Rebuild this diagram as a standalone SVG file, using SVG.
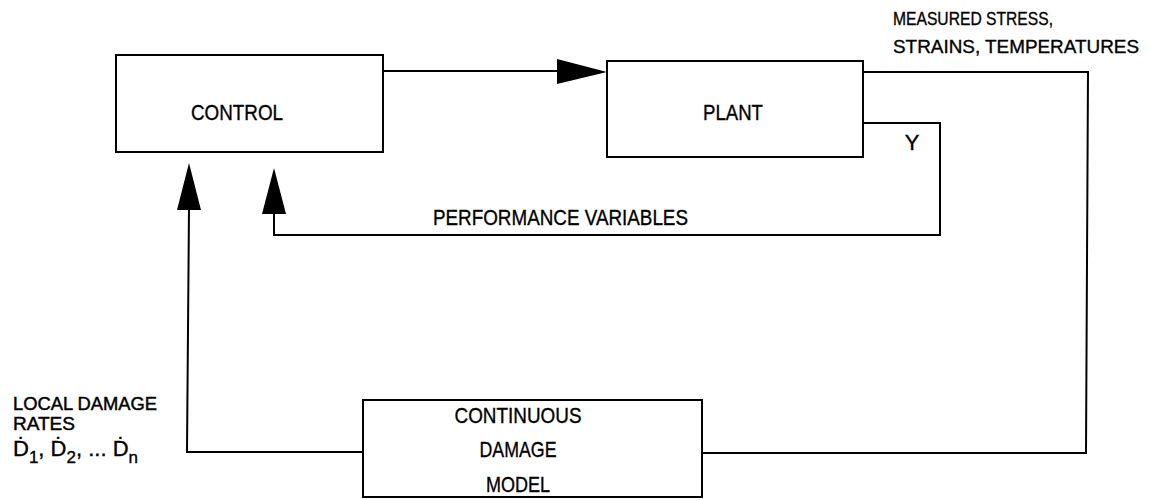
<svg xmlns="http://www.w3.org/2000/svg" width="1149" height="500" viewBox="0 0 1149 500">
<style>
.box{fill:none;stroke:#000;stroke-width:2}
.ln{fill:none;stroke:#000;stroke-width:2}
.hd{fill:#000;stroke:none}
text{font-family:"Liberation Sans",Arial,sans-serif;font-size:22px;fill:#000;stroke:#000;stroke-width:0.35}
.c{text-anchor:middle}
.s{font-size:18px;stroke-width:0.45}
.m{font-size:19px}
</style>
<rect width="1149" height="500" fill="#fff"/>
<g id="control">
<rect class="box" x="116" y="55" width="267" height="97"/>
<text class="c" x="237" y="120" textLength="92" lengthAdjust="spacingAndGlyphs">CONTROL</text>
</g>
<g id="plant">
<rect class="box" x="607" y="61" width="256" height="96"/>
<text class="c" x="733" y="120" textLength="60" lengthAdjust="spacingAndGlyphs">PLANT</text>
</g>
<g id="damage-model">
<rect class="box" x="363" y="400" width="339" height="97"/>
<text class="c" x="518" y="423" textLength="127" lengthAdjust="spacingAndGlyphs">CONTINUOUS</text>
<text class="c" x="518" y="457" textLength="77" lengthAdjust="spacingAndGlyphs">DAMAGE</text>
<text class="c" x="518" y="492" textLength="64" lengthAdjust="spacingAndGlyphs">MODEL</text>
</g>
<g id="connectors">
<polyline class="ln" points="383,71 560,71"/>
<polygon class="hd" points="557,59 607,72 557,84"/>
<polyline class="ln" points="863,72 1088,72 1086,453 702,453"/>
<polyline class="ln" points="863,123 940,123 940,235 274,235 274,212"/>
<polygon class="hd" points="262,214 274,168 286,214"/>
<polyline class="ln" points="363,452 187,452 189,208"/>
<polygon class="hd" points="177,210 189,163 201,210"/>
</g>
<g id="labels">
<text class="m" x="893" y="25" textLength="160" lengthAdjust="spacingAndGlyphs">MEASURED STRESS,</text>
<text class="m" x="893" y="53" textLength="246" lengthAdjust="spacingAndGlyphs">STRAINS, TEMPERATURES</text>
<text class="c" x="912" y="150">Y</text>
<text x="433" y="225" textLength="255" lengthAdjust="spacingAndGlyphs">PERFORMANCE VARIABLES</text>
<text class="s" x="13" y="410" textLength="144" lengthAdjust="spacingAndGlyphs">LOCAL DAMAGE</text>
<text class="s" x="13" y="430" textLength="62" lengthAdjust="spacingAndGlyphs">RATES</text>
<text x="13" y="456">Ḋ<tspan dy="7" font-size="17">1</tspan><tspan dy="-7">, Ḋ</tspan><tspan dy="7" font-size="17">2</tspan><tspan dy="-7">, ... Ḋ</tspan><tspan dy="7" font-size="17">n</tspan></text>
</g>
</svg>
